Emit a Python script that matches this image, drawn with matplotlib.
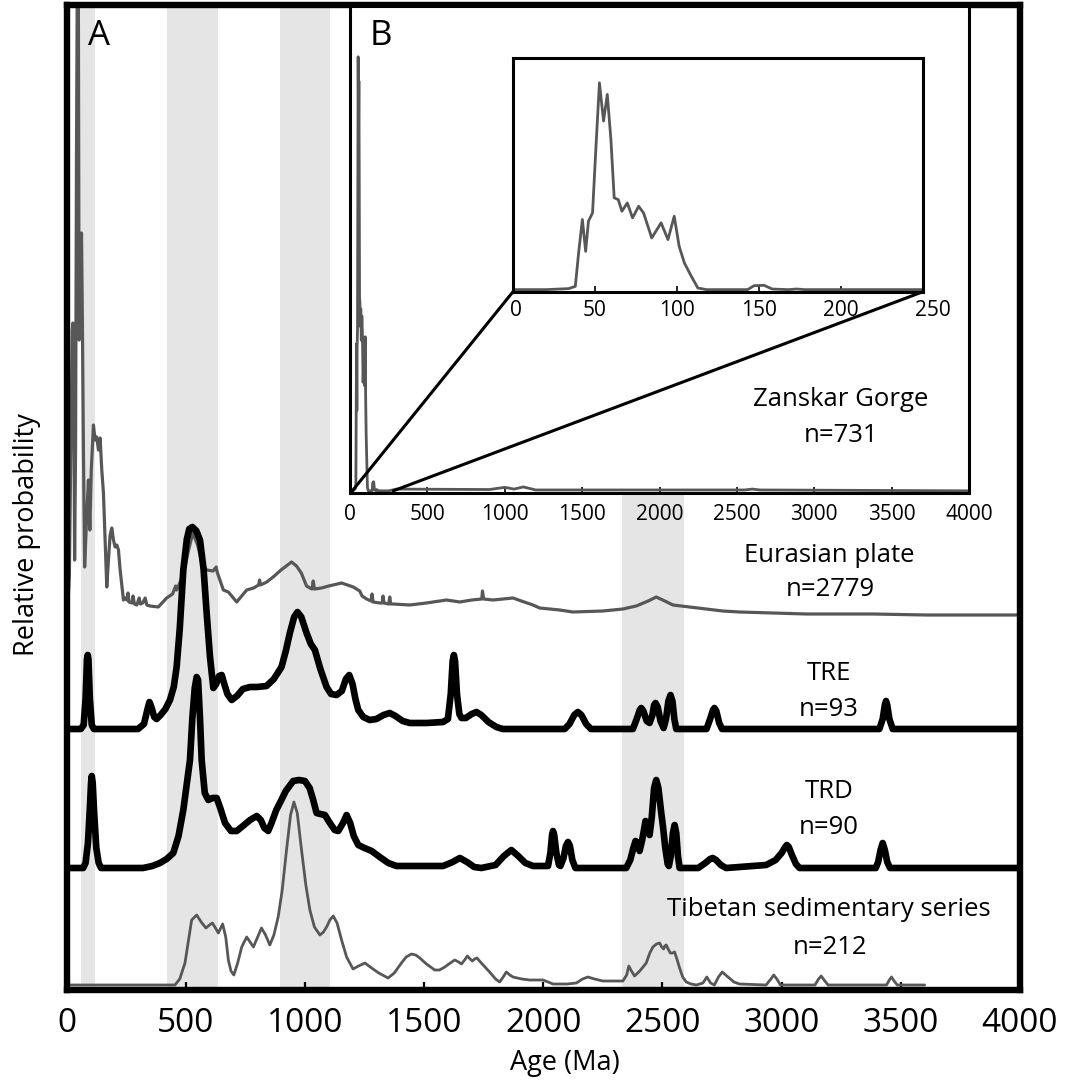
import matplotlib
matplotlib.use("Agg")
import matplotlib.pyplot as plt
from matplotlib.patches import ConnectionPatch
from matplotlib.transforms import ScaledTranslation

plt.rcParams['font.family'] = ['Open Sans', 'DejaVu Sans']

W, H = 1070, 1086

# shaded age windows (Ma)
bands = [(60, 120), (420, 635), (895, 1105), (2330, 2590)]

# Eurasian plate, n=2779
eu_age = [0, 6, 12, 18, 24, 27, 30, 34, 38, 42, 46, 50, 53, 57, 63, 67, 71, 76, 84, 92,
          98, 104, 110, 113, 120, 127, 134, 141, 148, 155, 162, 169, 176, 183, 190, 197,
          204, 211, 218, 225, 232, 239, 246, 253, 258, 262, 274, 279, 285, 295, 305, 310,
          320, 330, 337, 350, 385, 420, 445, 458, 462, 490, 510, 530, 550, 570, 588, 615,
          628, 632, 658, 679, 700, 714, 735, 756, 785, 806, 810, 814, 840, 867, 900, 944,
          965, 985, 1007, 1021, 1030, 1035, 1040, 1070, 1100, 1154, 1203, 1230, 1240, 1259,
          1278, 1282, 1286, 1314, 1325, 1328, 1332, 1352, 1356, 1360, 1370, 1440, 1510,
          1594, 1650, 1700, 1742, 1745, 1750, 1789, 1873, 1920, 1957, 1985, 2069, 2124,
          2250, 2334, 2390, 2440, 2474, 2510, 2544, 2614, 2753, 2823, 2963, 3103, 3382,
          3606, 4000]
eu_p = [2, 10, 40, 165, 285, 292, 255, 55, 165, 465, 675, 675, 275, 315, 382, 285, 165, 48,
        95, 135, 85, 145, 175, 190, 175, 178, 165, 177, 145, 122, 75, 28, 55, 80, 87, 75,
        68, 70, 65, 45, 30, 15, 17, 15, 22, 13, 12, 19, 11, 10, 17, 11, 12, 17, 10, 9, 8,
        17, 21, 29, 25, 40, 63, 82, 70, 50, 45, 44, 48, 43, 25, 23, 17, 13, 19, 25, 27, 30,
        35, 30, 33, 38, 45, 53, 49, 42, 29, 27, 26, 34, 26, 27, 29, 32, 28, 24, 19, 16, 14,
        21, 13, 12, 12, 19, 12, 11, 18, 11, 11, 10, 12, 15, 13, 15, 16, 24, 16, 15, 17, 13,
        10, 7, 5, 3, 4, 6, 9, 14, 18, 14, 10, 8, 4, 3, 2, 1, 1, 0, 0]

# TRE, n=93
tre_age = [0, 60, 72, 80, 86, 89, 92, 98, 106, 115, 300, 325, 340, 348, 356, 368, 378, 395,
           415, 434, 450, 462, 475, 490, 505, 515, 528, 545, 560, 575, 588, 602, 616, 628,
           640, 651, 662, 675, 693, 715, 740, 770, 800, 839, 870, 902, 920, 937, 955, 969,
           985, 1007, 1025, 1042, 1065, 1091, 1110, 1133, 1155, 1172, 1186, 1200, 1212,
           1224, 1245, 1272, 1300, 1330, 1356, 1380, 1410, 1440, 1510, 1580, 1600, 1612,
           1620, 1625, 1630, 1638, 1648, 1657, 1675, 1700, 1720, 1740, 1770, 1803, 1830,
           2090, 2110, 2130, 2145, 2160, 2180, 2200, 2376, 2392, 2405, 2411, 2420, 2434,
           2446, 2458, 2465, 2471, 2480, 2492, 2505, 2515, 2525, 2534, 2542, 2550, 2558,
           2685, 2700, 2712, 2718, 2726, 2738, 2750, 3410, 3424, 3433, 3438, 3443, 3452,
           3466, 4000]
tre_p = [0, 0, 4, 30, 70, 74, 70, 30, 4, 0, 0, 5, 20, 27, 22, 12, 10, 14, 20, 29, 42, 62,
         100, 159, 190, 200, 202, 198, 189, 160, 116, 72, 41, 45, 53, 54, 45, 35, 29, 33,
         40, 42, 42, 43, 50, 62, 78, 96, 112, 117, 112, 96, 85, 79, 60, 42, 35, 34, 38, 50,
         54, 45, 30, 19, 12, 9, 10, 14, 16, 13, 8, 6, 6, 7, 10, 35, 68, 74, 68, 35, 15, 11,
         11, 15, 17, 14, 7, 2, 0, 0, 5, 14, 17, 14, 5, 0, 0, 10, 19, 21, 18, 8, 6, 14, 24,
         26, 22, 8, 1, 10, 28, 34, 28, 10, 0, 0, 10, 19, 21, 18, 6, 0, 0, 10, 24, 28, 24,
         10, 0, 0]

# TRD, n=90
trd_age = [0, 70, 80, 90, 98, 103, 106, 110, 116, 125, 135, 145, 321, 360, 392, 420, 448,
           470, 490, 505, 518, 528, 538, 546, 552, 560, 567, 580, 595, 612, 630, 645, 665,
           690, 714, 740, 770, 798, 815, 830, 846, 860, 880, 895, 920, 951, 975, 1000, 1020,
           1035, 1049, 1065, 1084, 1105, 1125, 1140, 1160, 1175, 1190, 1205, 1224, 1250,
           1280, 1320, 1350, 1384, 1500, 1580, 1620, 1650, 1680, 1710, 1740, 1800, 1835,
           1866, 1895, 1925, 1957, 2020, 2030, 2037, 2041, 2046, 2055, 2066, 2072, 2085,
           2095, 2104, 2112, 2122, 2135, 2348, 2365, 2378, 2387, 2396, 2404, 2415, 2429,
           2437, 2446, 2455, 2465, 2474, 2483, 2495, 2502, 2512, 2522, 2527, 2535, 2544,
           2551, 2558, 2565, 2572, 2650, 2680, 2700, 2711, 2725, 2745, 2767, 2935, 2975,
           3000, 3015, 3022, 3030, 3045, 3060, 3075, 3395, 3405, 3415, 3424, 3433, 3443,
           3455, 4000]
trd_p = [0, 0, 5, 25, 60, 85, 92, 85, 55, 20, 5, 0, 0, 2, 5, 9, 15, 32, 58, 85, 108, 150,
         180, 191, 188, 150, 108, 75, 68, 70, 70, 60, 45, 37, 37, 42, 48, 52, 48, 40, 37,
         45, 58, 65, 77, 87, 88, 87, 80, 68, 55, 54, 53, 45, 38, 37, 45, 53, 45, 32, 23, 20,
         17, 10, 5, 2, 2, 2, 6, 10, 6, 1, 0, 3, 12, 18, 12, 5, 2, 2, 15, 33, 37, 33, 15, 3,
         2, 10, 22, 26, 22, 8, 0, 0, 8, 20, 27, 25, 17, 28, 47, 40, 33, 50, 80, 88, 80, 55,
         42, 20, 4, 2, 12, 35, 43, 35, 12, 0, 0, 5, 9, 10, 8, 3, 0, 3, 8, 15, 21, 23, 21,
         12, 4, 0, 0, 6, 18, 25, 18, 6, 0, 0]

# Tibetan sedimentary series, n=212
tib_age = [0, 455, 475, 497, 512, 525, 546, 565, 585, 600, 612, 625, 637, 655, 668, 679,
           690, 702, 718, 735, 756, 770, 784, 800, 818, 835, 853, 870, 888, 905, 923, 940,
           954, 968, 986, 1004, 1021, 1040, 1063, 1078, 1091, 1105, 1119, 1135, 1154, 1175,
           1202, 1225, 1252, 1280, 1310, 1349, 1375, 1405, 1425, 1447, 1465, 1482, 1510,
           1545, 1565, 1587, 1610, 1629, 1645, 1657, 1670, 1682, 1693, 1703, 1712, 1722,
           1740, 1775, 1800, 1817, 1832, 1845, 1860, 1873, 1910, 1943, 1999, 2041, 2100,
           2139, 2165, 2187, 2215, 2250, 2334, 2350, 2359, 2370, 2383, 2405, 2432, 2447,
           2460, 2475, 2488, 2497, 2505, 2510, 2516, 2524, 2533, 2542, 2551, 2562, 2572,
           2585, 2600, 2620, 2642, 2670, 2686, 2702, 2718, 2735, 2751, 2770, 2800, 2823,
           2935, 2955, 2967, 2980, 2995, 3140, 3155, 3166, 3178, 3195, 3440, 3452, 3461,
           3472, 3485, 3600]
tib_p = [0, 0, 6, 22, 45, 65, 70, 63, 57, 60, 62, 57, 52, 61, 48, 25, 14, 10, 22, 38, 48,
         43, 38, 47, 57, 50, 40, 50, 68, 95, 135, 170, 183, 172, 135, 100, 75, 58, 50, 53,
         58, 65, 69, 62, 45, 28, 16, 19, 22, 17, 12, 7, 12, 22, 28, 31, 30, 27, 21, 15, 15,
         18, 22, 25, 23, 21, 25, 29, 26, 24, 26, 27, 22, 13, 6, 3, 8, 13, 10, 8, 6, 5, 5, 1,
         1, 2, 6, 8, 6, 4, 4, 10, 19, 14, 9, 14, 22, 32, 38, 41, 42, 38, 36, 39, 40, 36, 32,
         32, 33, 25, 17, 8, 3, 1, 0, 2, 8, 2, 0, 8, 13, 9, 3, 1, 0, 6, 10, 6, 0, 0, 6, 9, 5,
         0, 0, 5, 8, 4, 0, 0]

# Zanskar Gorge, n=731 (normalised to the 53 Ma peak)
zg_age = [0, 20, 34, 38, 40, 42.3, 44.3, 46, 48.5, 50.5, 52.7, 55.2, 57.5, 59.7, 61.7,
          64.2, 66.4, 69.7, 72.9, 76.6, 79.6, 84.6, 90.3, 94.5, 98.3, 101.3, 104.5, 108.7,
          112.7, 118, 143, 147, 153, 158, 168, 173, 178, 250, 300, 900, 1000, 1060, 1120,
          1200, 2550, 2600, 2650, 4000]
zg_p = [0, 0, 0.005, 0.016, 0.177, 0.339, 0.185, 0.331, 0.371, 0.677, 1.0, 0.815, 0.944,
        0.726, 0.444, 0.435, 0.379, 0.419, 0.347, 0.403, 0.371, 0.25, 0.323, 0.242, 0.355,
        0.21, 0.129, 0.065, 0.008, 0, 0, 0.019, 0.021, 0.003, 0, 0.003, 0, 0, 0.004, 0.003,
        0.008, 0.004, 0.009, 0.002, 0.002, 0.004, 0.002, 0]

ticks_main = [0, 500, 1000, 1500, 2000, 2500, 3000, 3500, 4000]
ticks_zoom = [0, 50, 100, 150, 200, 250]

gray = '#575757'
shade = '#e5e5e5'


def rect(left, top, right, bottom):
    return [left / W, 1 - bottom / H, (right - left) / W, (bottom - top) / H]


def ftext(x, y, s, **kw):
    fig.text(x / W, 1 - y / H, s, ha='center', va='center', **kw)


fig = plt.figure(figsize=(W / 100, H / 100), dpi=100)

# ---- panel A
ax = fig.add_axes(rect(66.5, 5, 1020, 990))
ax.set_xlim(0, 4000)
ax.set_ylim(0, 985)
for lo, hi in bands:
    ax.axvspan(lo, hi, color=shade, lw=0, zorder=0)

curves = [  # (ages, probs, baseline, colour, width)
    (eu_age, eu_p, 375, gray, 2.3),
    (tib_age, tib_p, 5, gray, 2.0),
    (trd_age, trd_p, 122, 'black', 4.8),
    (tre_age, tre_p, 261, 'black', 4.8),
]
for a, p, base, c, lw in curves:
    ax.plot(a, [base + v for v in p], color=c, lw=lw, solid_joinstyle='round',
            solid_capstyle='round', zorder=3 if c == 'black' else 2)

ax.set_xticks(ticks_main)
ax.set_yticks([])
ax.tick_params(axis='x', direction='in', length=6, width=1.6, pad=12, labelsize=24)
for s in ax.spines.values():
    s.set_linewidth(4.6)

# ---- panel B
axb = fig.add_axes(rect(350, 6, 969, 493), zorder=5)
axb.set_facecolor('white')
axb.plot(zg_age, zg_p, color=gray, lw=2.0, solid_joinstyle='round')
axb.set_xlim(0, 4000)
axb.set_ylim(-0.005, 1.117)
axb.set_xticks(ticks_main)
axb.set_yticks([])
axb.tick_params(axis='x', direction='in', length=4, width=1.2, pad=8, labelsize=15)
for s in axb.spines.values():
    s.set_linewidth(2.2)

# ---- zoom 0-250 Ma
axz = fig.add_axes(rect(513, 58, 923, 291.7), zorder=6)
axz.set_facecolor('white')
axz.plot(zg_age, zg_p, color=gray, lw=2.0, solid_joinstyle='round')
axz.set_xlim(0, 250)
axz.set_ylim(-0.01, 1.12)
axz.set_xticks(ticks_zoom)
axz.set_yticks([])
axz.tick_params(axis='x', direction='in', length=4, width=1.2, pad=6, labelsize=15)
for s in axz.spines.values():
    s.set_linewidth(2.2)
labs = axz.get_xticklabels()
labs[0].set_transform(labs[0].get_transform() + ScaledTranslation(0.03, 0, fig.dpi_scale_trans))
labs[-1].set_transform(labs[-1].get_transform() + ScaledTranslation(0.10, 0, fig.dpi_scale_trans))

for xa, xb in [(0, 15), (1, 280)]:
    con = ConnectionPatch(xyA=(xa, 0), coordsA=axz.transAxes, xyB=(xb, 0), coordsB=axb.transData,
                          color='black', lw=2.2, zorder=7)
    fig.add_artist(con)

# ---- text
ftext(99, 36, 'A', fontsize=25)
ftext(381, 36, 'B', fontsize=25, zorder=8)
lab = dict(fontsize=18.5, zorder=8)
ftext(841, 399, 'Zanskar Gorge', **lab)
ftext(841, 435, 'n=731', **lab)
ftext(829, 555, 'Eurasian plate', **lab)
ftext(830, 590, 'n=2779', **lab)
ftext(829, 674, 'TRE', **lab)
ftext(829, 709, 'n=93', **lab)
ftext(829, 792, 'TRD', **lab)
ftext(829, 827, 'n=90', **lab)
ftext(829, 910, 'Tibetan sedimentary series', **lab)
ftext(830, 947, 'n=212', **lab)
ftext(565, 1063, 'Age (Ma)', fontsize=19.5)
ftext(27, 535, 'Relative probability', fontsize=19.5, rotation=90)

fig.savefig('out.png', dpi=100)
